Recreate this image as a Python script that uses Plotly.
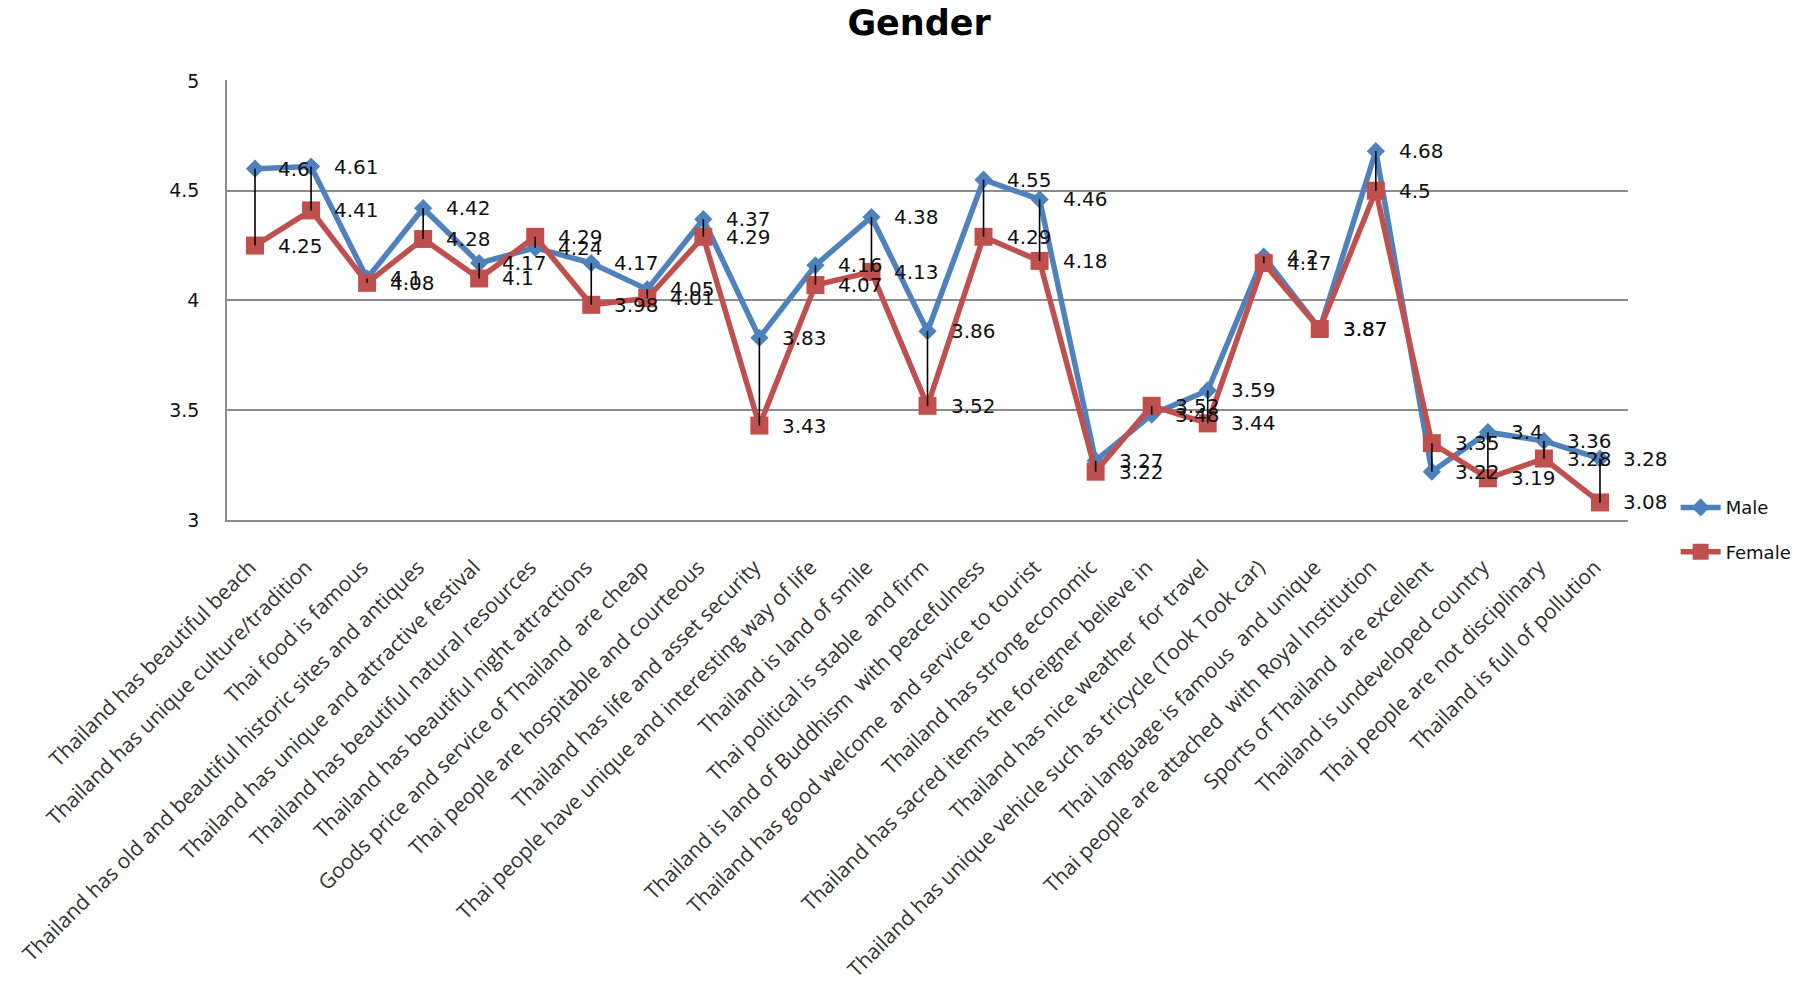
import plotly.graph_objects as go

categories = [
    "Thailand has beautiful beach",
    "Thailand has unique culture/tradition",
    "Thai food is famous",
    "Thailand has old and beautiful historic sites and antiques",
    "Thailand has unique and attractive festival",
    "Thailand has beautiful natural resources",
    "Thailand has beautiful night attractions",
    "Goods price and service of Thailand  are cheap",
    "Thai people are hospitable and courteous",
    "Thailand has life and asset security",
    "Thai people have unique and interesting way of life",
    "Thailand is land of smile",
    "Thai political is stable  and firm",
    "Thailand is land of Buddhism  with peacefulness",
    "Thailand has good welcome  and service to tourist",
    "Thailand has strong economic",
    "Thailand has sacred items the foreigner believe in",
    "Thailand has nice weather  for travel",
    "Thailand has unique vehicle such as tricycle (Took Took car)",
    "Thai language is famous  and unique",
    "Thai people are attached  with Royal Institution",
    "Sports of Thailand  are excellent",
    "Thailand is undeveloped country",
    "Thai people are not disciplinary",
    "Thailand is full of pollution",
]

male = [4.6, 4.61, 4.1, 4.42, 4.17, 4.24, 4.17, 4.05, 4.37, 3.83, 4.16, 4.38, 3.86,
        4.55, 4.46, 3.27, 3.48, 3.59, 4.2, 3.87, 4.68, 3.22, 3.4, 3.36, 3.28]
female = [4.25, 4.41, 4.08, 4.28, 4.1, 4.29, 3.98, 4.01, 4.29, 3.43, 4.07, 4.13, 3.52,
          4.29, 4.18, 3.22, 3.52, 3.44, 4.17, 3.87, 4.5, 3.35, 3.19, 3.28, 3.08]

y_ticks = [3, 3.5, 4, 4.5, 5]

# SVG collapses repeated spaces, so keep the wider gaps with a no-break space
tick_text = [c.replace("  ", " \u00a0") for c in categories]

BLUE = "#4F81BD"
RED = "#C0504D"
LABEL_FONT = dict(family="DejaVu Sans", size=20, color="#111111")

fig = go.Figure()

fig.add_trace(go.Scatter(
    x=categories, y=male, name="Male", mode="lines+markers",
    line=dict(color=BLUE, width=5.5),
    marker=dict(symbol="diamond", size=14, color=BLUE),
    legendgroup="m",
))
fig.add_trace(go.Scatter(
    x=categories, y=female, name="Female", mode="lines+markers",
    line=dict(color=RED, width=5.5),
    marker=dict(symbol="square", size=18, color=RED),
    legendgroup="f",
))

# high-low lines joining the two series at each category
hx, hy = [], []
for c, m, f in zip(categories, male, female):
    hx += [c, c, None]
    hy += [m, f, None]
fig.add_trace(go.Scatter(
    x=hx, y=hy, mode="lines", line=dict(color="black", width=1.6),
    showlegend=False, hoverinfo="skip",
))

# value labels to the right of each point
annotations = []
for series in (male, female):
    for c, v in zip(categories, series):
        annotations.append(dict(
            x=c, y=v, xref="x", yref="y", text=f"{v:g}", showarrow=False,
            xanchor="left", yanchor="middle", xshift=21, font=LABEL_FONT,
        ))

fig.update_layout(
    width=1813, height=984,
    margin=dict(l=227, r=185, t=80, b=464),
    paper_bgcolor="white", plot_bgcolor="white",
    title=dict(text="<b>Gender</b>", x=0.494, xref="paper", xanchor="center",
               y=0.977, yref="container", yanchor="middle",
               font=dict(family="DejaVu Sans", size=35, color="black")),
    annotations=annotations,
    showlegend=True,
    legend=dict(x=1.034, y=0.07, xanchor="left", yanchor="top",
                font=dict(family="DejaVu Sans", size=18, color="#111111"),
                tracegroupgap=18, traceorder="grouped", itemwidth=40,
                bgcolor="rgba(0,0,0,0)"),
    xaxis=dict(
        type="category", range=[-0.5, len(categories) - 0.5],
        tickmode="array", tickvals=categories, ticktext=tick_text,
        tickangle=-45, tickfont=dict(family="Open Sans", size=21, color="#333333"),
        ticklabelshift=-5, ticklabelstandoff=25,
        showgrid=False, showline=True, linecolor="#8c8c8c", linewidth=1.5,
        ticks="", automargin=False, zeroline=False,
    ),
    yaxis=dict(
        range=[3, 5.004], tickvals=y_ticks, ticktext=[f"{t:g}" for t in y_ticks],
        tickfont=dict(family="DejaVu Sans", size=19, color="#111111"),
        showgrid=True, gridcolor="#8c8c8c", gridwidth=1.5,
        showline=True, linecolor="#8c8c8c", linewidth=1.5,
        ticks="", ticklabelstandoff=22, automargin=False, zeroline=False,
    ),
)

fig.write_html("out.html")
